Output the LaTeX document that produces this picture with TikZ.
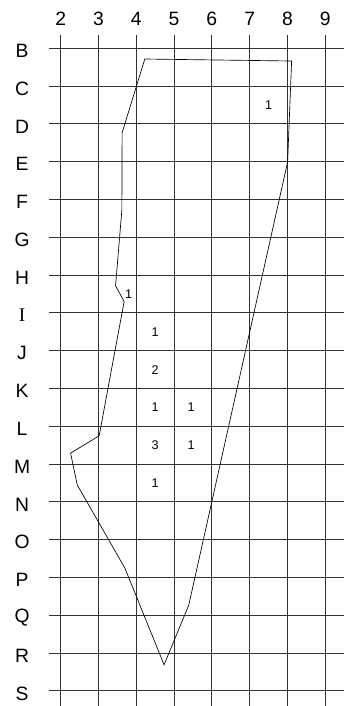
\documentclass[tikz,border=0pt]{standalone}
\usepackage{fontspec}
\setmainfont{Liberation Sans}
\newfontfamily\serifI{Liberation Serif}
\usetikzlibrary{positioning}

\begin{document}
\begin{tikzpicture}[
  x=28.39pt, y=-28.39pt,
  gridline/.style={line width=0.7pt, black!80},
  outline/.style={line width=0.5pt, black},
  axis/.style={font=\fontsize{14.5}{16}\selectfont, inner sep=0pt},
  count/.style={font=\fontsize{9.5}{11}\selectfont, inner sep=0pt}
]
  \useasboundingbox (0.396,-1.278) rectangle (9.59,17.4);

  % grid
  \foreach \r in {0,...,17}
    \draw[gridline] (1.69,\r) -- (9.485,\r);
  \foreach \c in {2,...,9}
    \draw[gridline] (\c,-0.35) -- (\c,17.4);

  % labels
  \foreach \c in {2,...,9}
    \node[axis] (col\c) at (\c,-0.78) {\c};
  \foreach \l/\t [count=\r from 0] in {B/B,C/C,D/D,E/E,F/F,G/G,H/H,I/{\serifI I},J/J,K/K,L/L,M/M,N/N,O/O,P/P,Q/Q,R/R,S/S}
    \node[axis] (row\l) at (0.98,\r+0.07) {\t};

  % outline
  \draw[outline] (4.227,0.283) -- (8.111,0.336) -- (8.005,3.008) -- (5.39,14.73)
    -- (4.737,16.31) -- (3.699,13.75) -- (2.439,11.55) -- (2.264,10.71)
    -- (3.02,10.25) -- (3.68,6.70) -- (3.453,6.28) -- (3.62,4.28)
    -- (3.627,2.233) -- cycle;

  % counts
  \node[count] (cC7) at (7.5,1.5) {1};
  \node[count] (cH3) at (3.8,6.5) {1};
  \node[count] (cI4) at (4.5,7.5) {1};
  \node[count] (cJ4) at (4.5,8.5) {2};
  \node[count] (cK4) at (4.5,9.5) {1};
  \node[count] (cK5) at (5.45,9.5) {1};
  \node[count] (cL4) at (4.5,10.5) {3};
  \node[count] (cL5) at (5.45,10.5) {1};
  \node[count] (cM4) at (4.5,11.5) {1};
\end{tikzpicture}
\end{document}
